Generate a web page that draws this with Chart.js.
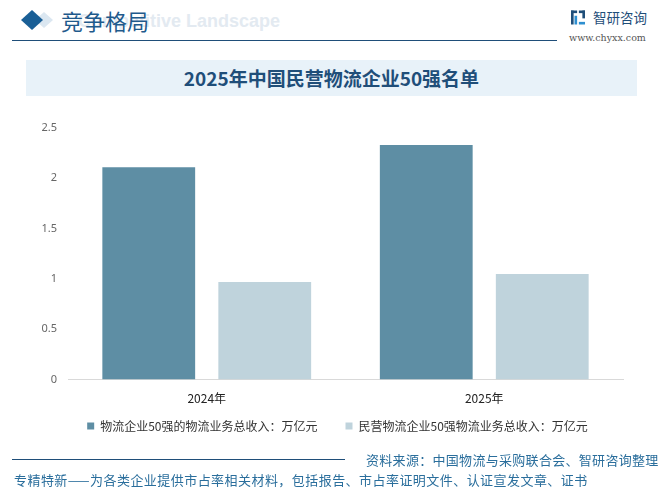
<!DOCTYPE html>
<html>
<head>
<meta charset="utf-8">
<script src="https://cdn.jsdelivr.net/npm/chart.js@4"></script>
<style>
  html,body{margin:0;padding:0;background:#fff;}
  body{width:667px;height:492px;position:relative;overflow:hidden;font-family:"Noto Sans CJK SC","Noto Sans",sans-serif;}
  .abs{position:absolute;white-space:nowrap;}
  #wm{left:78px;top:11px;font:bold 18px "Liberation Sans",sans-serif;color:#e3eaf1;}
  #dia{left:18px;top:8px;width:40px;height:24px;}
  #head{left:61px;top:4px;font-size:22px;color:#1f5a8c;}
  #hline{left:12px;top:40px;width:545px;height:1px;background:#1f4e79;}
  #logo{left:571px;top:10px;width:14px;height:15px;}
  #brand{left:593px;top:7px;font-size:13.5px;color:#1f4e79;}
  #url{left:569px;top:32px;font:9.5px "DejaVu Serif",serif;color:#555;}
  #tbox{left:26px;top:60px;width:611px;height:36px;background:#e8f2f9;}
  #title{left:26px;top:60px;width:611px;height:36px;line-height:36px;text-align:center;font-size:19px;font-weight:bold;color:#1f4e79;}
  #fline{left:12px;top:459px;width:333px;height:1px;background:#1f4e79;}
  #src{left:366px;top:450px;font-size:13px;letter-spacing:0.3px;color:#2a6e9c;}
  #slogan{left:14px;top:470px;font-size:13px;letter-spacing:0.45px;color:#2a6e9c;}
  #wrap{left:0;top:100px;width:667px;height:368px;}
</style>
</head>
<body>
<div class="abs" id="wm">Competitive Landscape</div>
<svg class="abs" id="dia" viewBox="0 0 40 24">
  <polygon points="26,4 35,12 26,20 17,12" fill="#dbe7f1"/>
  <polygon points="14,2 25,12 14,22 3,12" fill="#1a5f96"/>
</svg>
<div class="abs" id="head">竞争格局</div>
<div class="abs" id="hline"></div>
<svg class="abs" id="logo" viewBox="0 0 16 16">
  <rect x="0" y="0" width="7" height="3" fill="#1f4e79"/>
  <rect x="0" y="0" width="3" height="16" fill="#1f4e79"/>
  <rect x="4" y="6" width="3" height="10" fill="#2e8fd0"/>
  <rect x="9" y="0" width="7" height="3" fill="#1f4e79"/>
  <rect x="13" y="0" width="3" height="9" fill="#1f4e79"/>
  <rect x="9" y="13" width="7" height="3" fill="#2e8fd0"/>
</svg>
<div class="abs" id="brand">智研咨询</div>
<div class="abs" id="url">www.chyxx.com</div>
<div class="abs" id="tbox"></div>
<div class="abs" id="title">2025年中国民营物流企业50强名单</div>
<div class="abs" id="wrap"><canvas id="chart"></canvas></div>
<div class="abs" id="fline"></div>
<div class="abs" id="src">资料来源：中国物流与采购联合会、智研咨询整理</div>
<div class="abs" id="slogan">专精特新——为各类企业提供市占率相关材料，包括报告、市占率证明文件、认证宣发文章、证书</div>

<script>
// ================= DATA =================
const years = ["2024年", "2025年"];
const top50Revenue = [2.11, 2.33];        // 物流企业50强的物流业务总收入：万亿元
const privateTop50Revenue = [0.97, 1.05]; // 民营物流企业50强物流业务总收入：万亿元
const seriesNames = [
    "物流企业50强的物流业务总收入：万亿元",
    "民营物流企业50强物流业务总收入：万亿元"
];

// nudge the legend so it sits centred on the page, closer under the axis
const legendNudge = {
    id:"legendNudge",
    afterLayout(chart){
        const lg = chart.legend;
        lg.left += 26; lg.right += 26;
        lg.top -= 26;  lg.bottom -= 26;
    }
};

function initializeChart(){

    const ctx = document.getElementById("chart").getContext("2d");

    new Chart(ctx,{
        type:"bar",
        data:{
            labels: years,
            datasets:[
                {label:seriesNames[0], data:top50Revenue, backgroundColor:"#5e8ea4"},
                {label:seriesNames[1], data:privateTop50Revenue, backgroundColor:"#bfd3dc"}
            ]
        },
        options:{
            animation:false,
            responsive:true,
            maintainAspectRatio:false,
            layout:{padding:{left:0,right:44,top:28,bottom:0}},
            datasets:{bar:{categoryPercentage:0.836,barPercentage:0.8}},
            scales:{
                x:{
                    grid:{display:false,drawTicks:false},
                    border:{color:"#d9d9d9"},
                    ticks:{color:"#222",font:{size:12,family:"Noto Sans CJK SC"},padding:12}
                },
                y:{
                    min:0,
                    max:2.5,
                    afterFit:s=>{ s.width = 68; },
                    grid:{display:false,drawTicks:false},
                    border:{display:false},
                    ticks:{
                        stepSize:0.5,
                        color:"#666",
                        font:{size:11,family:"Noto Sans"},
                        padding:11,
                        callback:v=>String(v)
                    }
                }
            },
            plugins:{
                legend:{
                    position:"bottom",
                    labels:{
                        boxWidth:7,boxHeight:7,
                        color:"#333",
                        font:{size:12,family:"Noto Sans CJK SC"},
                        padding:28
                    }
                },
                tooltip:{enabled:false}
            }
        },
        plugins:[legendNudge]
    });
}

document.addEventListener("DOMContentLoaded",initializeChart);
</script>
</body>
</html>
